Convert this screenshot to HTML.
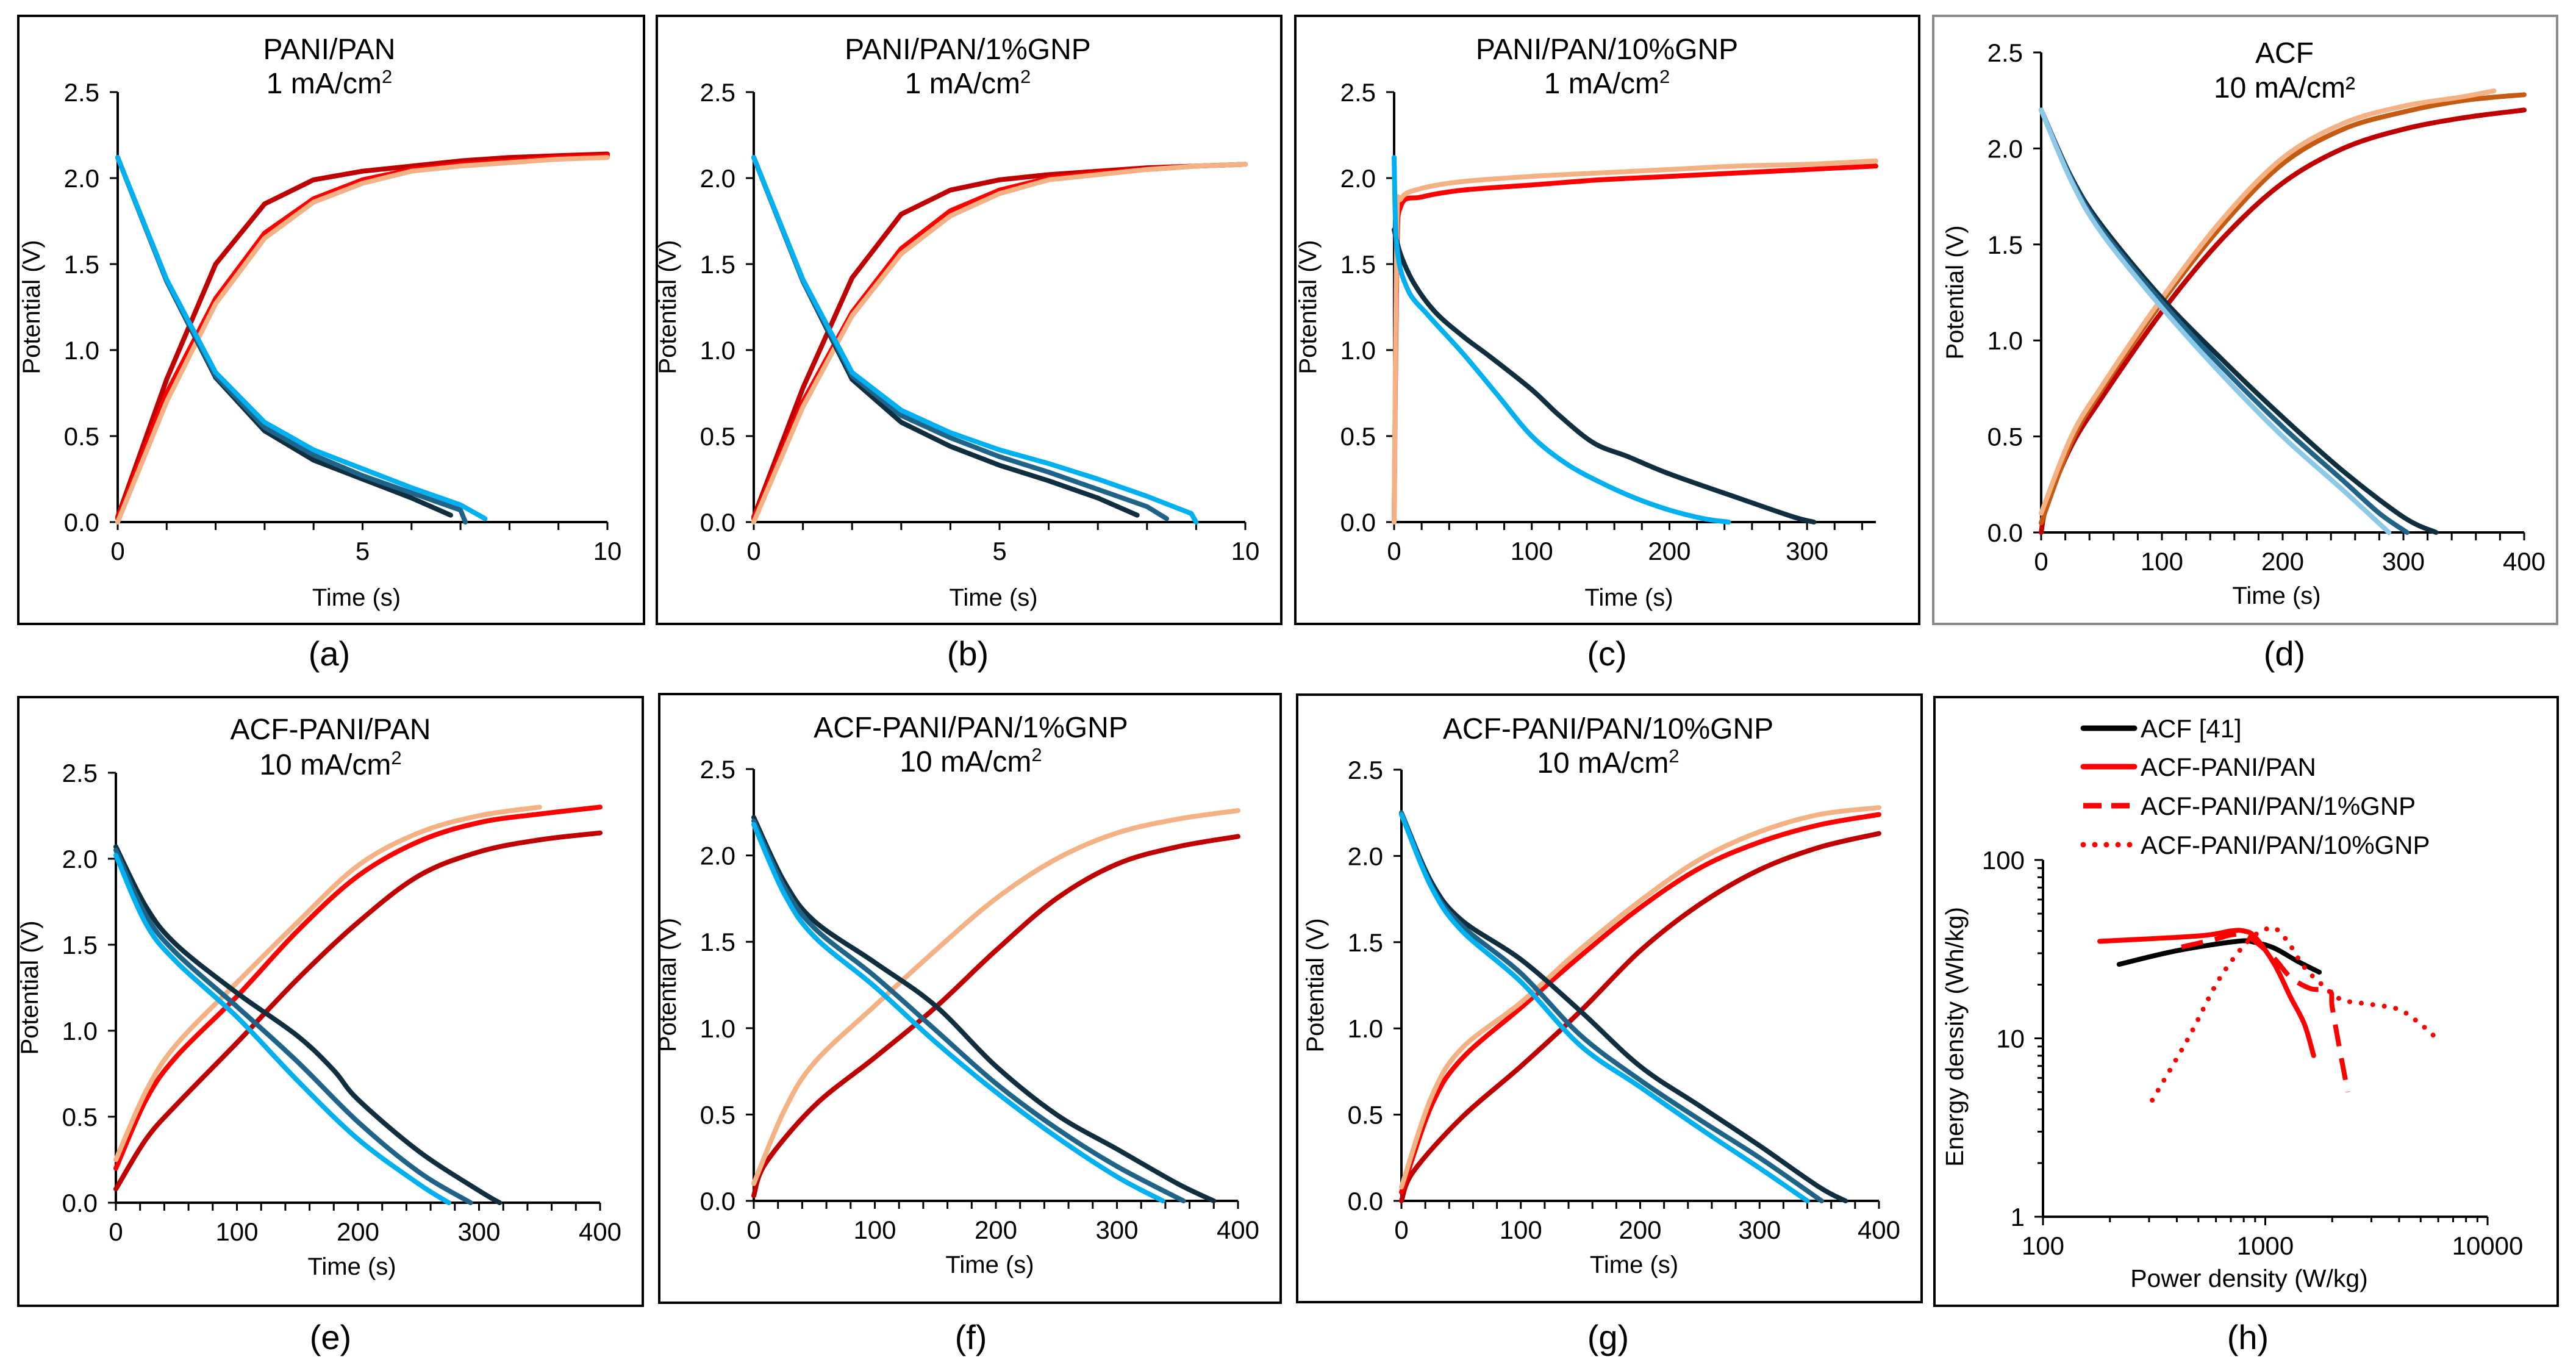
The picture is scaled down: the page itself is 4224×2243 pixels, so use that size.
<!DOCTYPE html>
<html><head><meta charset="utf-8"><style>
html,body{margin:0;padding:0;background:#fff;}
svg{display:block;font-family:"Liberation Sans",Arial,sans-serif;}
</style></head><body>
<svg id="fig" xmlns="http://www.w3.org/2000/svg" width="4224" height="2243" viewBox="0 0 4224 2243"></svg>
<script>
// ===== Data arrays (time s, potential V) =====
const aDarkRed=[[0,0.03],[1,0.83],[2,1.5],[3,1.85],[4,1.99],[5,2.04],[6,2.07],[7,2.1],[8,2.12],[9,2.13],[10,2.14]];
const aRed=[[0,0.02],[1,0.75],[2,1.3],[3,1.68],[4,1.88],[5,1.99],[6,2.05],[7,2.08],[8,2.1],[9,2.12],[10,2.13]];
const aSalmon=[[0,0],[1,0.7],[2,1.27],[3,1.65],[4,1.86],[5,1.97],[6,2.04],[7,2.07],[8,2.09],[9,2.11],[10,2.12]];
const aNavy=[[0,2.12],[1,1.4],[2,0.84],[3,0.53],[4,0.36],[5,0.25],[6,0.14],[6.8,0.04]];
const aMid=[[0,2.12],[1,1.4],[2,0.85],[3,0.55],[4,0.39],[5,0.27],[6,0.17],[7,0.07],[7.1,0]];
const aCyan=[[0,2.12],[1,1.41],[2,0.87],[3,0.58],[4,0.42],[5,0.31],[6,0.2],[7,0.1],[7.5,0.02]];

const bDarkRed=[[0,0.03],[1,0.78],[2,1.42],[3,1.79],[4,1.93],[5,1.99],[6,2.02],[7,2.04],[8,2.06],[9,2.07],[10,2.08]];
const bRed=[[0,0.02],[1,0.7],[2,1.22],[3,1.59],[4,1.81],[5,1.93],[6,2.0],[7,2.03],[8,2.05],[9,2.07],[10,2.08]];
const bSalmon=[[0,0],[1,0.67],[2,1.2],[3,1.56],[4,1.78],[5,1.91],[6,1.99],[7,2.02],[8,2.05],[9,2.07],[10,2.08]];
const bNavy=[[0,2.12],[1,1.4],[2,0.83],[3,0.58],[4,0.44],[5,0.33],[6,0.24],[7,0.14],[7.8,0.04]];
const bMid=[[0,2.12],[1,1.4],[2,0.85],[3,0.62],[4,0.49],[5,0.38],[6,0.29],[7,0.19],[8,0.09],[8.4,0.02]];
const bCyan=[[0,2.12],[1,1.41],[2,0.87],[3,0.65],[4,0.52],[5,0.42],[6,0.34],[7,0.25],[8,0.15],[8.9,0.05],[9,0]];

const cRed=[[0,0],[2,1.5],[5,1.84],[20,1.89],[50,1.93],[100,1.96],[150,1.99],[200,2.01],[250,2.03],[300,2.05],[350,2.07]];
const cSalmon=[[0,0],[2,1.7],[5,1.88],[20,1.94],[50,1.98],[100,2.01],[150,2.03],[200,2.05],[250,2.07],[300,2.08],[350,2.1]];
const cNavy=[[0,1.7],[5,1.55],[15,1.38],[30,1.22],[50,1.08],[70,0.96],[100,0.77],[120,0.62],[145,0.46],[170,0.38],[200,0.28],[250,0.14],[290,0.03],[305,0]];
const cCyan=[[0,2.12],[2,1.6],[10,1.35],[25,1.2],[50,0.98],[75,0.74],[100,0.5],[125,0.34],[150,0.23],[175,0.14],[200,0.07],[225,0.02],[243,0]];

const dRed=[[0,0],[5,0.15],[25,0.45],[50,0.7],[100,1.15],[150,1.53],[200,1.82],[250,2.0],[300,2.1],[350,2.16],[400,2.2]];
const dBrown=[[0,0.05],[25,0.47],[50,0.74],[100,1.2],[150,1.6],[200,1.92],[250,2.1],[300,2.19],[350,2.25],[400,2.28]];
const dSalmon=[[0,0.1],[25,0.5],[50,0.76],[100,1.22],[150,1.63],[200,1.95],[250,2.13],[300,2.22],[350,2.27],[375,2.3]];
const dNavy=[[0,2.2],[25,1.85],[50,1.6],[100,1.22],[150,0.9],[200,0.6],[250,0.32],[300,0.08],[327,0]];
const dMid=[[0,2.2],[25,1.84],[50,1.58],[100,1.2],[150,0.86],[200,0.55],[250,0.27],[280,0.1],[303,0]];
const dLight=[[0,2.2],[25,1.83],[50,1.56],[100,1.17],[150,0.82],[200,0.5],[250,0.22],[288,0]];

const eDarkRed=[[0,0.08],[25,0.37],[50,0.57],[100,0.93],[150,1.3],[200,1.63],[250,1.9],[300,2.04],[350,2.11],[400,2.15]];
const eRed=[[0,0.2],[25,0.6],[50,0.85],[100,1.2],[150,1.58],[200,1.9],[250,2.1],[300,2.21],[350,2.26],[400,2.3]];
const eSalmon=[[0,0.25],[25,0.65],[50,0.92],[100,1.28],[150,1.63],[200,1.96],[250,2.15],[300,2.25],[350,2.3]];
const eNavy=[[0,2.07],[25,1.72],[50,1.5],[100,1.22],[150,0.97],[180,0.77],[200,0.6],[250,0.3],[300,0.07],[317,0]];
const eMid=[[0,2.05],[25,1.67],[50,1.45],[100,1.14],[150,0.82],[200,0.47],[250,0.18],[293,0]];
const eCyan=[[0,2.02],[25,1.62],[50,1.4],[100,1.08],[150,0.71],[200,0.37],[250,0.11],[275,0]];

const fDarkRed=[[0,0.03],[10,0.22],[50,0.55],[100,0.83],[150,1.12],[200,1.45],[250,1.75],[300,1.95],[350,2.05],[400,2.11]];
const fSalmon=[[0,0.1],[25,0.52],[50,0.8],[100,1.13],[150,1.45],[200,1.75],[250,1.98],[300,2.13],[350,2.21],[400,2.26]];
const fNavy=[[0,2.22],[25,1.85],[50,1.62],[100,1.38],[150,1.13],[200,0.78],[250,0.5],[300,0.3],[350,0.1],[380,0]];
const fMid=[[0,2.2],[25,1.82],[50,1.58],[100,1.3],[150,0.99],[200,0.68],[250,0.42],[300,0.2],[355,0]];
const fCyan=[[0,2.18],[25,1.78],[50,1.53],[100,1.24],[150,0.92],[200,0.63],[250,0.37],[300,0.14],[338,0]];

const gDarkRed=[[0,0],[10,0.17],[50,0.48],[100,0.78],[150,1.1],[200,1.45],[250,1.72],[300,1.92],[350,2.05],[400,2.13]];
const gRed=[[0,0.05],[25,0.55],[50,0.82],[100,1.12],[150,1.42],[200,1.7],[250,1.93],[300,2.08],[350,2.18],[400,2.24]];
const gSalmon=[[0,0.08],[25,0.6],[50,0.88],[100,1.15],[150,1.46],[200,1.74],[250,1.98],[300,2.14],[350,2.24],[400,2.28]];
const gNavy=[[0,2.25],[25,1.85],[50,1.63],[100,1.4],[150,1.1],[200,0.78],[250,0.55],[300,0.32],[350,0.08],[372,0]];
const gMid=[[0,2.25],[25,1.83],[50,1.6],[100,1.32],[150,0.96],[200,0.7],[250,0.47],[300,0.25],[352,0]];
const gCyan=[[0,2.24],[25,1.82],[50,1.57],[100,1.27],[150,0.9],[200,0.66],[250,0.42],[300,0.19],[340,0]];

// Ragone (power W/kg, energy Wh/kg)
const hACF=[[220,26],[400,31],[750,35],[900,34.5],[1100,32],[1400,27],[1750,23.5]];
const hPAN=[[180,35],[500,37.5],[700,40],[800,40],[900,37],[1100,26],[1300,17],[1500,12],[1650,8]];
const hGNP1=[[420,32.5],[600,36],[700,38],[800,38],[900,35],[1100,28],[1300,22],[1600,19],[1950,18.5],[2000,15],[2150,9],[2350,5]];
const hGNP10=[[310,4.5],[450,10],[600,20],[750,30],[900,38],[1050,41.5],[1150,40],[1300,33],[1500,25],[1800,20],[2200,16.5],[3000,15.5],[4000,14.5],[5000,12],[6000,9.8]];
const hLegend=["ACF [41]","ACF-PANI/PAN","ACF-PANI/PAN/1%GNP","ACF-PANI/PAN/10%GNP"];
const potTicks=[0,0.5,1.0,1.5,2.0,2.5];

const C={dr:"#c00000",r:"#ff0000",s:"#f4b183",br:"#c55a11",n:"#0f2f40",m:"#1f6388",c:"#00b0f0",lb:"#8cc8e8"};
const NS="http://www.w3.org/2000/svg";
const svg=document.getElementById('fig');
function mk(tag,attrs,parent){const e=document.createElementNS(NS,tag);for(const k in attrs)e.setAttribute(k,attrs[k]);(parent||svg).appendChild(e);return e;}
function txt(x,y,s,size,anchor,parent){const t=mk('text',{x:x,y:y,'font-size':size,'text-anchor':anchor||'middle',fill:'#000'},parent);t.textContent=s;return t;}
function pathD(pts,smooth){
  if(!smooth||pts.length<3)return pts.map((p,j)=>(j?'L':'M')+p[0].toFixed(1)+','+p[1].toFixed(1)).join(' ');
  let d='M'+pts[0][0].toFixed(1)+','+pts[0][1].toFixed(1);
  for(let i=0;i<pts.length-1;i++){
    const p0=pts[Math.max(0,i-1)],p1=pts[i],p2=pts[i+1],p3=pts[Math.min(pts.length-1,i+2)];
    const c1=[p1[0]+(p2[0]-p0[0])/6,p1[1]+(p2[1]-p0[1])/6];
    const c2=[p2[0]-(p3[0]-p1[0])/6,p2[1]-(p3[1]-p1[1])/6];
    d+=' C'+c1[0].toFixed(1)+','+c1[1].toFixed(1)+' '+c2[0].toFixed(1)+','+c2[1].toFixed(1)+' '+p2[0].toFixed(1)+','+p2[1].toFixed(1);
  }
  return d;
}

const panels=[
 {id:'a',box:[30,26,1026,997],px:[193,996],py:[856,151],xmax:10,xmajor:5,xminor:1,title:["PANI/PAN","1 mA/cm"],tx:540,ty:[80,136],timeDy:123,lab:1071,smooth:false,
  series:[[aDarkRed,C.dr],[aRed,C.r],[aSalmon,C.s],[aNavy,C.n],[aMid,C.m],[aCyan,C.c]]},
 {id:'b',box:[1077,26,1024,997],px:[1236,2042],py:[856,151],xmax:10,xmajor:5,xminor:1,title:["PANI/PAN/1%GNP","1 mA/cm"],tx:1587,ty:[80,136],timeDy:123,lab:1071,smooth:false,
  series:[[bDarkRed,C.dr],[bRed,C.r],[bSalmon,C.s],[bNavy,C.n],[bMid,C.m],[bCyan,C.c]]},
 {id:'c',box:[2124,26,1023,997],px:[2286,3076],py:[856,151],xmax:350,xmajor:100,xminor:20,title:["PANI/PAN/10%GNP","1 mA/cm"],tx:2635,ty:[80,136],timeDy:123,lab:1071,smooth:true,
  series:[[cRed,C.r],[cSalmon,C.s],[cNavy,C.n],[cCyan,C.c]]},
 {id:'d',box:[3170,26,1023,997],px:[3347,4139],py:[873,86],xmax:400,xmajor:100,xminor:20,title:["ACF","10 mA/cm²"],tx:3746,ty:[86,143],timeDy:103,lab:1071,grey:true,smooth:true,
  series:[[dRed,C.dr],[dBrown,C.br],[dSalmon,C.s],[dNavy,C.n],[dMid,C.m],[dLight,C.lb]]},
 {id:'e',box:[30,1143,1024,998],px:[190,984],py:[1972,1267],xmax:400,xmajor:100,xminor:20,title:["ACF-PANI/PAN","10 mA/cm"],tx:542,ty:[1195,1253],timeDy:104,lab:2192,smooth:true,
  series:[[eDarkRed,C.dr],[eRed,C.r],[eSalmon,C.s],[eNavy,C.n],[eMid,C.m],[eCyan,C.c]]},
 {id:'f',box:[1081,1138,1019,998],px:[1236,2030],py:[1969,1261],xmax:400,xmajor:100,xminor:20,title:["ACF-PANI/PAN/1%GNP","10 mA/cm"],tx:1592,ty:[1192,1248],timeDy:104,lab:2192,smooth:true,
  series:[[fDarkRed,C.dr],[fSalmon,C.s],[fNavy,C.n],[fMid,C.m],[fCyan,C.c]]},
 {id:'g',box:[2127,1139,1024,996],px:[2298,3081],py:[1969,1262],xmax:400,xmajor:100,xminor:20,title:["ACF-PANI/PAN/10%GNP","10 mA/cm"],tx:2637,ty:[1194,1250],timeDy:104,lab:2192,smooth:true,
  series:[[gDarkRed,C.dr],[gRed,C.r],[gSalmon,C.s],[gNavy,C.n],[gMid,C.m],[gCyan,C.c]]}
];

panels.forEach(P=>{
  const g=mk('g',{});
  
  
  const b=mk('rect',{x:P.box[0],y:P.box[1],width:P.box[2],height:P.box[3],fill:'none',stroke:P.grey?'#8a8a8a':'#000','stroke-width':4},g);
  
  
  const X=v=>P.px[0]+v/P.xmax*(P.px[1]-P.px[0]);
  const Y=v=>P.py[0]+v/2.5*(P.py[1]-P.py[0]);
  const t1=txt(P.tx,P.ty[0]+17,P.title[0],48,'middle',g);
  
  
  const t2=txt(P.tx,P.ty[1]+17,'',48,'middle',g);
  
  
  t2.textContent=P.title[1];
  if(!P.title[1].endsWith('²')){const sp=mk('tspan',{dy:-17,'font-size':31},t2);sp.textContent='2';}
  const ya=mk('line',{x1:X(0),y1:Y(0),x2:X(0),y2:Y(2.5),stroke:'#000','stroke-width':4},g);
  
  
  const xa=mk('line',{x1:X(0)-2,y1:Y(0),x2:X(P.xmax),y2:Y(0),stroke:'#000','stroke-width':4},g);
  
  
  potTicks.forEach(v=>{
    mk('line',{x1:X(0)-13,y1:Y(v),x2:X(0),y2:Y(v),stroke:'#000','stroke-width':3},g);
    const l=txt(X(0)-30,Y(v)+15,v.toFixed(1),42,'end',g);
    
    
  });
  for(let v=0;v<=P.xmax+1e-9;v+=P.xminor){
    mk('line',{x1:X(v),y1:Y(0),x2:X(v),y2:Y(0)+13,stroke:'#000','stroke-width':3},g);
  }
  for(let v=0;v<=P.xmax+1e-9;v+=P.xmajor){
    const l=txt(X(v),Y(0)+62,String(v),42,'middle',g);
    
    
  }
  const xt=txt((X(0)+X(P.xmax))/2-10,Y(0)+P.timeDy+14,'Time (s)',40,'middle',g);
  
  
  const cy=(Y(0)+Y(2.5))/2;
  const yt=txt(0,0,P.grey?'Potential  (V)':'Potential (V)',40,'middle',g);
  yt.setAttribute('transform','translate('+(X(0)-128)+','+cy+') rotate(-90)');
  
  
  P.series.forEach((s,i)=>{
    const pts=s[0].map(p=>[X(p[0]),Y(p[1])]);
    const path=mk('path',{d:pathD(pts,P.smooth),fill:'none',stroke:s[1],'stroke-width':8,'stroke-linejoin':'round','stroke-linecap':'round'},g);
    
    
  });
  const lb=txt(P.tx,P.lab+20,'('+P.id+')',56,'middle',g);
  
  
});

// ===== Panel h: Ragone plot =====
(function(){
  const g=mk('g',{});
  
  
  const b=mk('rect',{x:3172,y:1143,width:1022,height:998,fill:'none',stroke:'#000','stroke-width':4},g);
  
  
  const x0=3350,x1=4079,y0=1995,y1=1410;
  const X=v=>x0+(Math.log10(v)-2)/2*(x1-x0);
  const Y=v=>y0+Math.log10(v)/2*(y1-y0);
  const ya=mk('line',{x1:x0,y1:y0,x2:x0,y2:y1,stroke:'#000','stroke-width':4},g);
  
  
  const xa=mk('line',{x1:x0,y1:y0,x2:x1,y2:y0,stroke:'#000','stroke-width':4},g);
  
  
  for(let d=0;d<2;d++)for(let k=1;k<=10;k++){
    const v=k*Math.pow(10,d);const major=(k===1||k===10);
    mk('line',{x1:x0-(major?14:9),y1:Y(v),x2:x0,y2:Y(v),stroke:'#000','stroke-width':3},g);
    const xv=v*100;
    mk('line',{x1:X(xv),y1:y0,x2:X(xv),y2:y0+(major?14:9),stroke:'#000','stroke-width':3},g);
  }
  [1,10,100].forEach(v=>{const l=txt(x0-30,Y(v)+15,String(v),42,'end',g);
    
    });
  [100,1000,10000].forEach(v=>{const l=txt(X(v),y0+62,String(v),42,'middle',g);
    
    });
  const xt=txt(3688,2110,'Power density (W/kg)',41,'middle',g);
  
  
  const yt=txt(0,0,'Energy density (Wh/kg)',41,'middle',g);
  yt.setAttribute('transform','translate(3219,1700) rotate(-90)');
  
  
  const styles=[
    {c:'#000',dash:null,cap:'round'},
    {c:'#ff0000',dash:null,cap:'round'},
    {c:'#ff0000',dash:'36 20',cap:'butt'},
    {c:'#ff0000',dash:'0 19',cap:'round'}];
  const sets=[hACF,hPAN,hGNP1,hGNP10];
  sets.forEach((s,i)=>{
    const pts=s.map(p=>[X(p[0]),Y(p[1])]);
    const st=styles[i];
    const a={d:pathD(pts,true),fill:'none',stroke:st.c,'stroke-width':8,'stroke-linejoin':'round','stroke-linecap':st.cap};
    if(st.dash)a['stroke-dasharray']=st.dash;
    const path=mk('path',a,g);
    
    
  });
  const ly=[1194,1257,1321,1385];
  hLegend.forEach((name,i)=>{
    const st=styles[i];
    const a={x1:3416,y1:ly[i],x2:3500,y2:ly[i],stroke:st.c,'stroke-width':9,'stroke-linecap':st.cap};
    if(st.dash)a['stroke-dasharray']=i===2?'30 16':st.dash;
    const ln=mk('line',a,g);
    
    
    const t=txt(3510,ly[i]+15,name,42,'start',g);
    
    
  });
  const lb=txt(3686,2212,'(h)',56,'middle',g);
  
  
})();
</script>
</body></html>
